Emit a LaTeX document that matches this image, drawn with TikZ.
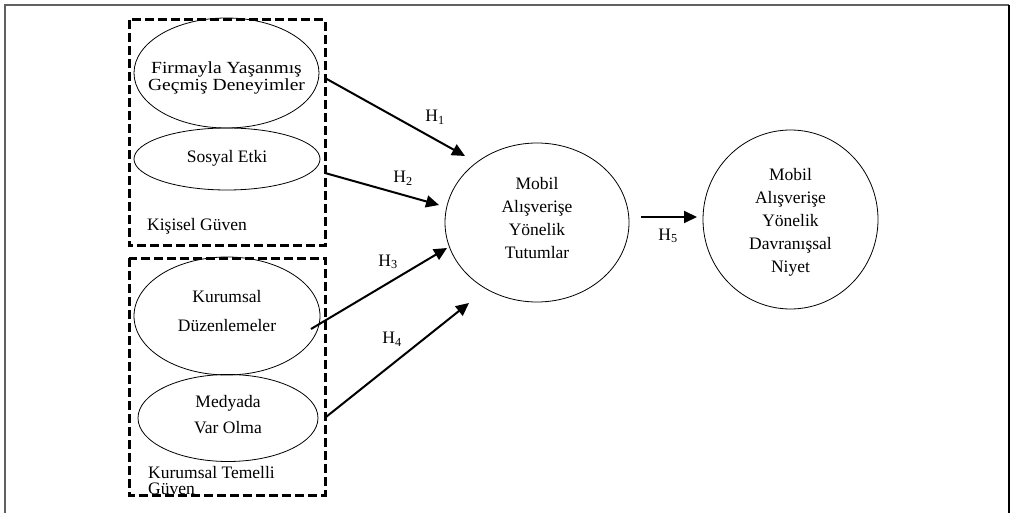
\documentclass[tikz,border=0pt]{standalone}
\usepackage{fontspec}
\setmainfont{Liberation Serif}
\newfontfamily\widefont{Liberation Serif}[FakeStretch=1.15]
\usetikzlibrary{shapes.geometric,arrows.meta}
\tikzset{
  oval/.style={ellipse,draw,line width=0.8pt,inner sep=0pt},
  ovaltext/.style={align=center,inner sep=0pt,font=\fontsize{17.5}{23}\selectfont},
  groupbox/.style={draw,line width=3pt,dash pattern=on 9pt off 4pt},
  hyp/.style={line width=2pt,-{Triangle[length=13pt,width=12pt]}},
  hlabel/.style={font=\fontsize{17.5}{20}\selectfont,inner sep=0pt}
}
\begin{document}
\begin{tikzpicture}[x=1pt,y=-1pt]
    \useasboundingbox (0,0) rectangle (1012,513);
    % frame
    \draw[line width=2.5pt,gray!75!black] (5,513) -- (5,5) -- (1009,5);
    \draw[line width=2.5pt] (1009,5) -- (1009,513);

    % personal trust
    \path (226.5,73) node[oval,minimum width=185pt,minimum height=110pt,
      label={[ovaltext,yshift=-5pt,font=\widefont\fontsize{17}{14.5}\selectfont]center:Firmayla Yaşanmış\\Geçmiş Deneyimler}] (firma) {};
    \path (227,159) node[oval,minimum width=186pt,minimum height=62pt,
      label={[ovaltext,yshift=1pt]center:Sosyal Etki}] (sosyal) {};
    \path (147,230) node[anchor=base west,inner sep=0pt,
      font=\fontsize{17.5}{20}\selectfont] (kisisel) {Kişisel Güven};
    \draw[groupbox] (129,20) rectangle (325,246);

    % institution based trust
    \path (227,316) node[oval,minimum width=186pt,minimum height=118pt,
      label={[ovaltext,yshift=5pt,font=\fontsize{17.5}{29}\selectfont]center:Kurumsal\\Düzenlemeler}] (duzen) {};
    \path (228,418) node[oval,minimum width=180pt,minimum height=87pt,
      label={[ovaltext,yshift=3pt,font=\fontsize{17.5}{26}\selectfont]center:Medyada\\Var Olma}] (medya) {};
    \path (148,466) node[anchor=north west,inner sep=0pt,align=left,
      font=\fontsize{17.5}{16}\selectfont] (kurumsal) {Kurumsal Temelli\\Güven};
    \draw[groupbox] (129,258) rectangle (325,495);

    % attitude and intention
    \path (537,222.5) node[oval,minimum width=184pt,minimum height=159pt,
      label={[ovaltext,yshift=4pt]center:Mobil\\Alışverişe\\Yönelik\\Tutumlar}] (tutum) {};
    \path (790.5,219.5) node[oval,minimum width=175pt,minimum height=179pt,
      label={[ovaltext,yshift=-3pt]center:Mobil\\Alışverişe\\Yönelik\\Davranışsal\\Niyet}] (niyet) {};

    % hypotheses
    \coordinate (h1s) at (325,78);   \coordinate (h1e) at (465,156);
    \coordinate (h2s) at (325,173);  \coordinate (h2e) at (439,205);
    \coordinate (h3s) at (311,329);  \coordinate (h3e) at (447,248);
    \coordinate (h4s) at (326,417);  \coordinate (h4e) at (469,303);
    \coordinate (h5s) at (641,217);  \coordinate (h5e) at (697,217);
    \draw[hyp] (h1s) -- (h1e);
    \draw[hyp] (h2s) -- (h2e);
    \draw[hyp] (h3s) -- (h3e);
    \draw[hyp] (h4s) -- (h4e);
    \draw[hyp] (h5s) -- (h5e);
    \path (435,117) node[hlabel] (l1) {H\textsubscript{1}};
    \path (403,178) node[hlabel] (l2) {H\textsubscript{2}};
    \path (388,262) node[hlabel] (l3) {H\textsubscript{3}};
    \path (392,339) node[hlabel] (l4) {H\textsubscript{4}};
    \path (668,236) node[hlabel] (l5) {H\textsubscript{5}};
  \end{tikzpicture}
\end{document}
